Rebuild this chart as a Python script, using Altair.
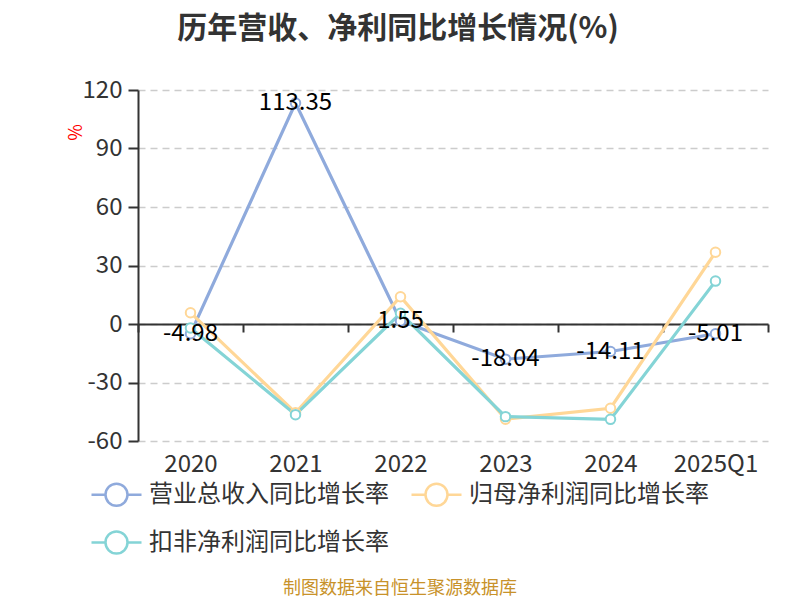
import altair as alt
import pandas as pd

years = ["2020", "2021", "2022", "2023", "2024", "2025Q1"]
revenue = [-4.98, 113.35, 1.55, -18.04, -14.11, -5.01]
net_profit = [5.8, -45.5, 14.0, -48.8, -43.2, 36.8]
deducted = [-2.0, -46.5, 5.5, -47.5, -48.9, 22.0]
series_names = ["营业总收入同比增长率", "归母净利润同比增长率", "扣非净利润同比增长率"]
colors = ["#8faadc", "#ffd797", "#84d4d6"]
y_ticks = [-60, -30, 0, 30, 60, 90, 120]
title_text = "历年营收、净利同比增长情况(%)"
source_text = "制图数据来自恒生聚源数据库"

FONT = "Noto Sans CJK SC"

rows = []
for k, (name, vals) in enumerate(zip(series_names, [revenue, net_profit, deducted])):
    for yr, v in zip(years, vals):
        rows.append({"year": yr, "value": v, "series": name, "order": k})
df = pd.DataFrame(rows)

x_enc = alt.X(
    "year:N",
    sort=years,
    bandPosition=0.5,
    scale=alt.Scale(type="band", paddingInner=0, paddingOuter=0),
    axis=alt.Axis(
        title=None,
        orient="bottom",
        offset=-117,
        tickBand="extent",
        domainColor="#333333",
        domainWidth=2,
        tickColor="#333333",
        tickWidth=2,
        tickSize=8,
        labelFont=FONT,
        labelFontSize=24,
        labelColor="#333333",
        labelBaseline="middle",
        labelPadding=132,
        labelAngle=0,
        grid=False,
    ),
)
y_enc = alt.Y(
    "value:Q",
    scale=alt.Scale(domain=[-60, 120], nice=False, zero=False),
    axis=alt.Axis(
        values=y_ticks,
        labelExpr="toString(datum.value)",
        title="%",
        titleColor="red",
        titleFont=FONT,
        titleFontSize=18,
        titleFontWeight="normal",
        titleX=-62,
        titleY=42,
        titleAngle=270,
        titleAlign="center",
        titleBaseline="middle",
        domainColor="#333333",
        domainWidth=2,
        tickColor="#333333",
        tickWidth=2,
        tickSize=10,
        labelPadding=6,
        labelFont=FONT,
        labelFontSize=24,
        labelColor="#333333",
        grid=True,
        gridDash=[7, 5],
        gridColor="#cccccc",
        gridWidth=1.5,
    ),
)

legend_path = (
    "M-1.667,0L-0.733,0"
    "M0.733,0A0.733,0.733,0,1,1,-0.733,0A0.733,0.733,0,1,1,0.733,0"
    "M0.733,0L1.667,0"
)

color_scale = alt.Scale(domain=series_names, range=colors)

color_enc = alt.Color(
    "series:N",
    scale=color_scale,
    legend=alt.Legend(
        title=None,
        orient="none",
        legendX=-38,
        legendY=388,
        direction="horizontal",
        columns=2,
        symbolType=legend_path,
        symbolSize=900,
        symbolStrokeWidth=2.5,
        symbolFillColor="white",
        labelFont=FONT,
        labelFontSize=24,
        labelColor="#333333",
        labelOffset=16,
        labelLimit=400,
        columnPadding=17,
        rowPadding=15,
    ),
)

lines = alt.Chart(df).mark_line(strokeWidth=3.2).encode(
    x=x_enc, y=y_enc, color=color_enc, order="order:O"
)
points = alt.Chart(df).mark_point(
    shape="circle", filled=True, fill="white", size=90, strokeWidth=2, opacity=1
).encode(
    x=x_enc,
    y=y_enc,
    stroke=alt.Stroke("series:N", scale=color_scale, legend=None),
    order="order:O",
)

labels = (
    alt.Chart(df)
    .transform_filter(alt.datum.series == series_names[0])
    .transform_calculate(lbl="replace(format(datum.value, '.2f'), '\u2212', '-')")
    .mark_text(font=FONT, fontSize=24, color="#000000", align="center", baseline="middle")
    .encode(
        x=alt.X("year:N", sort=years, bandPosition=0.5),
        y="value:Q",
        text="lbl:N",
    )
)

source = (
    alt.Chart(pd.DataFrame({"t": [source_text]}))
    .mark_text(font=FONT, fontSize=18, color="#c8922a", align="center", baseline="middle")
    .encode(x=alt.value(262), y=alt.value(499), text="t:N")
)

chart = (
    alt.layer(lines, points, labels, source)
    .properties(
        width=630,
        height=351,
        padding={"left": 130, "top": 82, "right": 24, "bottom": 159},
        autosize=alt.AutoSizeParams(type="none"),
        title=alt.TitleParams(
            text=title_text,
            font=FONT,
            fontSize=30,
            fontWeight="bold",
            color="#333333",
            anchor="middle",
            dx=-55,
            offset=34,
        ),
    )
    .configure_view(stroke=None)
)

chart.save("out.html", embed_options={"renderer": "svg", "actions": False})
